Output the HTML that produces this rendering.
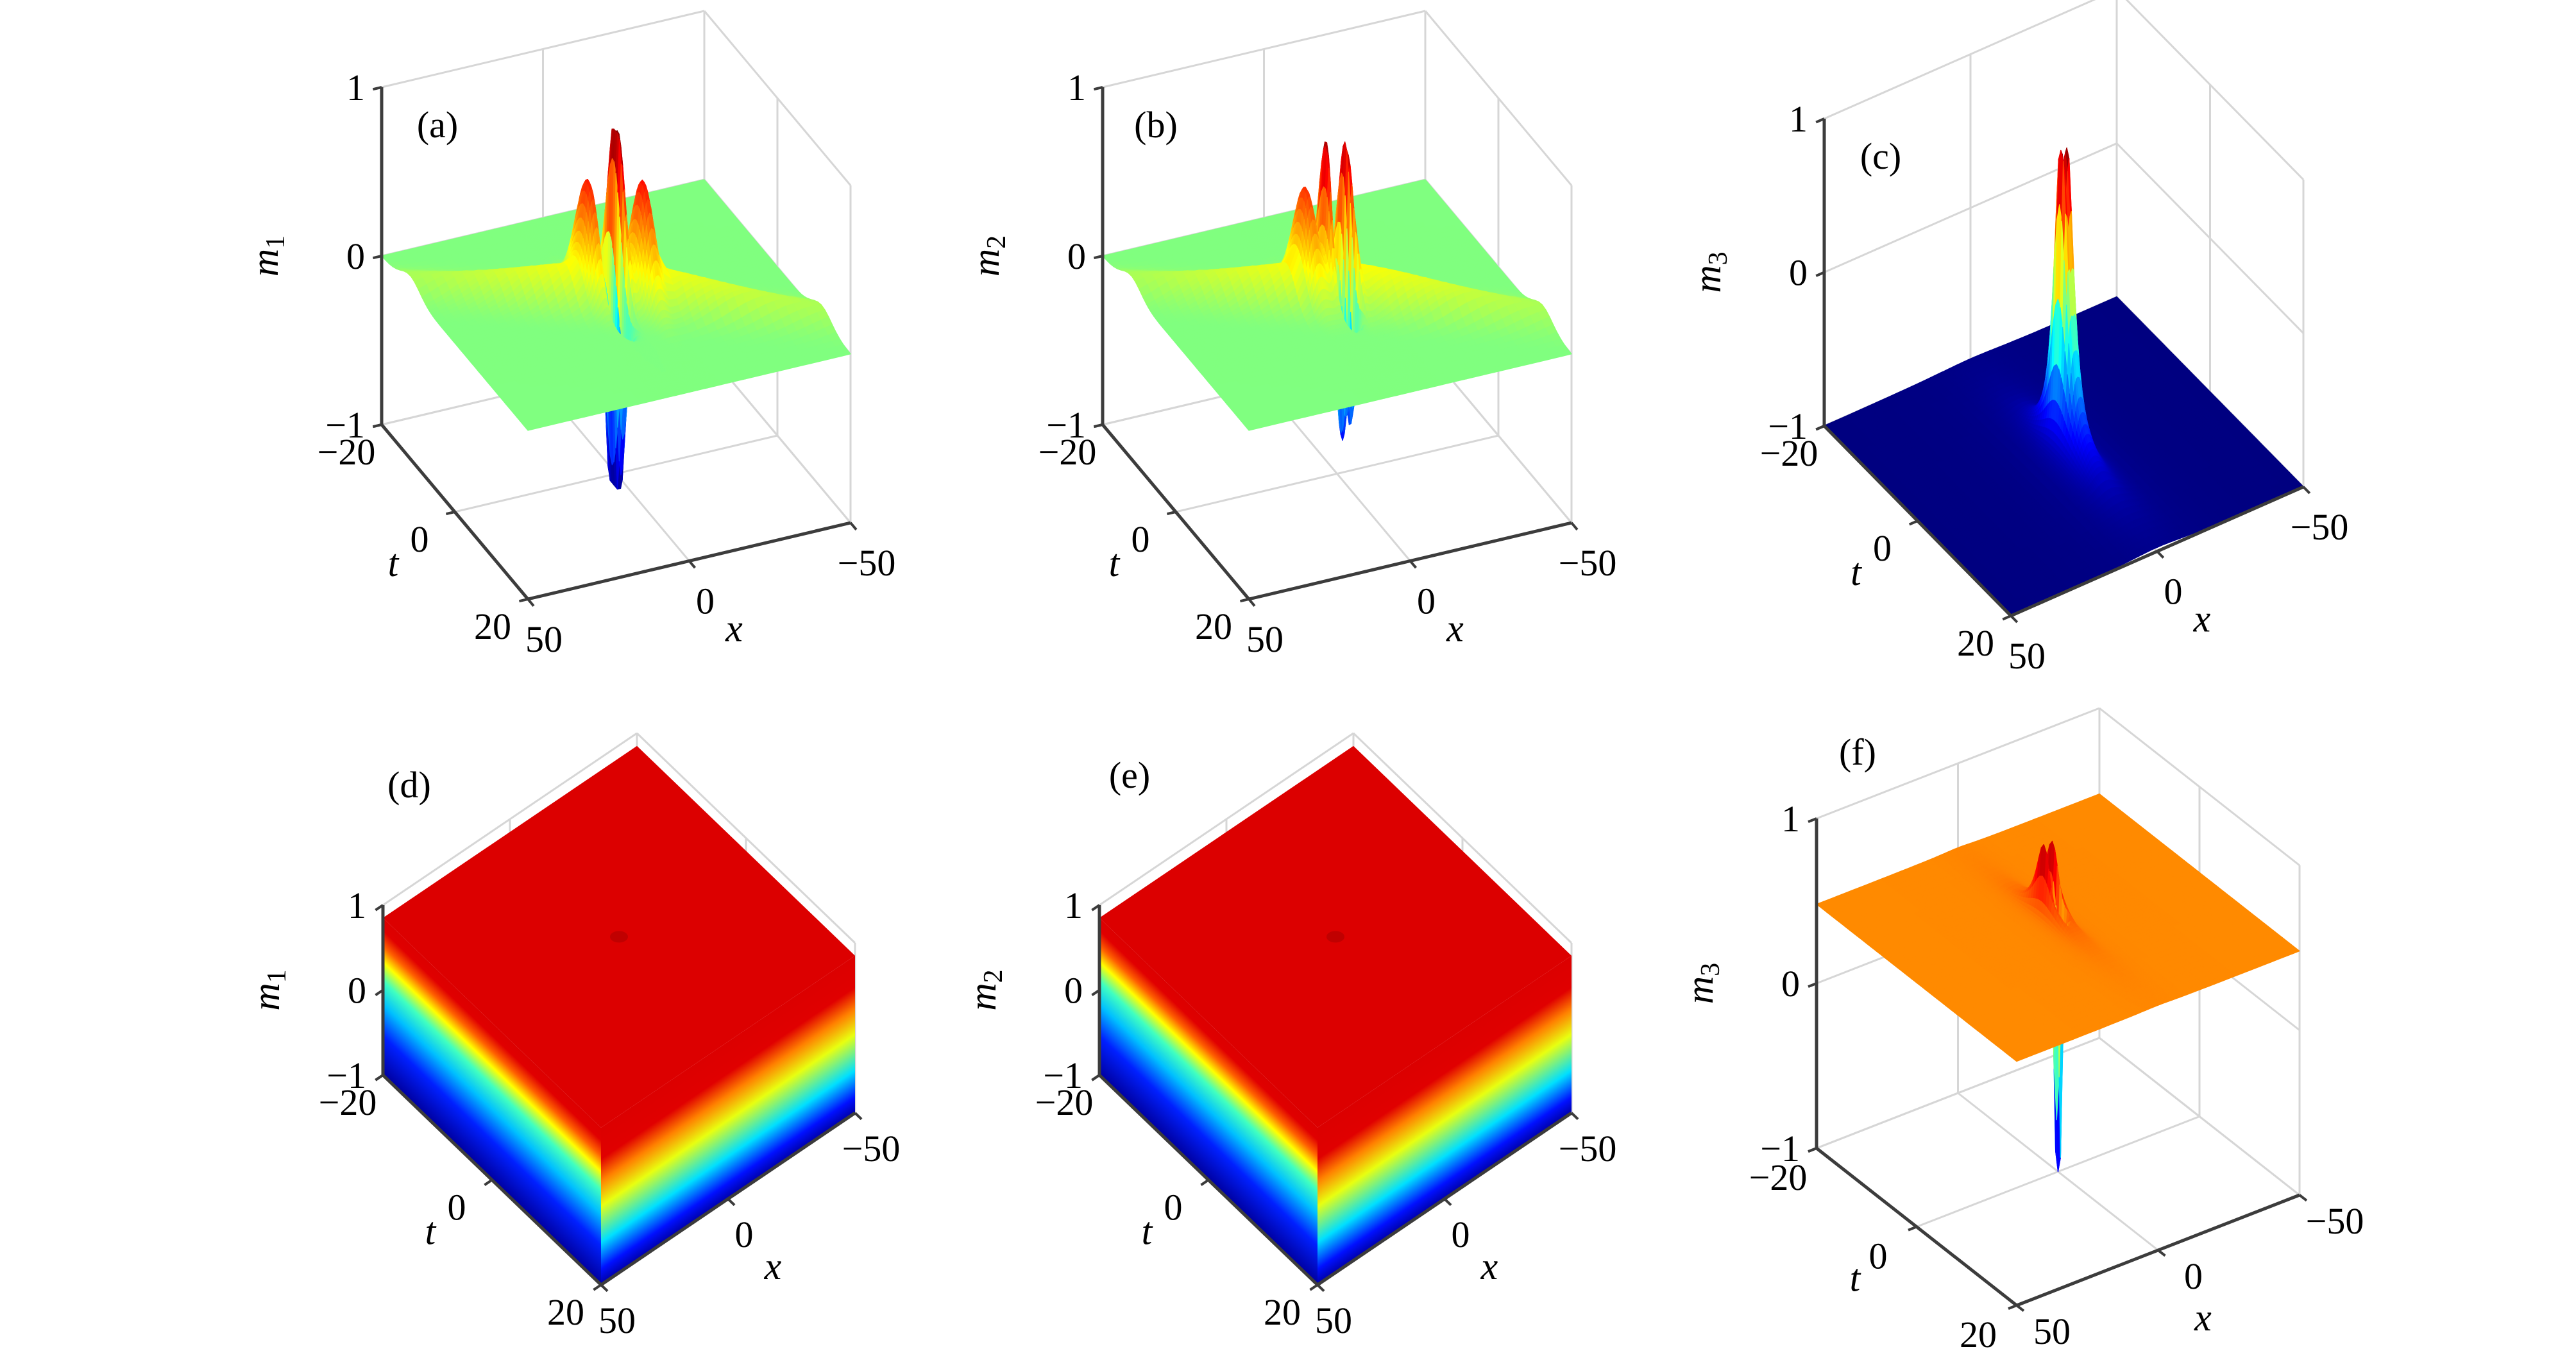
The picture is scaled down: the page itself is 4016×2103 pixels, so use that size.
<!DOCTYPE html>
<html><head><meta charset="utf-8"><title>m1 m2 m3 surfaces</title>
<style>
html,body{margin:0;padding:0;background:#fff;}
svg{display:block;}
text{font-family:"Liberation Serif","DejaVu Serif",serif;fill:#000;}
</style></head>
<body>
<svg id="fig" width="4016" height="2103" viewBox="0 0 4016 2103" xmlns="http://www.w3.org/2000/svg"></svg>
<script>
// ---- tick data ----
const zTicks = [1, 0, -1];
const zTickLabels = ['1', '0', '\u22121'];
const tTicks = [-20, 0, 20];
const tTickLabels = ['\u221220', '0', '20'];
const xTicks = [50, 0, -50];
const xTickLabels = ['50', '0', '\u221250'];

// ---- panel (a) m1 surface features ----
const aBase = 0;
const aAmp = [1.0, 0.5, 0.5, -1.3, -0.8];
const aX0 = [-1, 6, -7, 1.5, 3];
const aT0 = [-1, -3, 1, 1, 2];
const aSx = [1.2, 2.5, 2.5, 1.8, 1.4];
const aSt = [3, 4, 4, 3, 2.5];
const aKind = [0, 0, 0, 0, 0];
const aRidge = [0.25, 3.9, 14, 9];
// ---- panel (b) m2 ----
const bBase = 0;
const bAmp = [1.0, 0.85, 0.45, -1.2, -1.0];
const bX0 = [1.5, -3, 7, 0.5, -2];
const bT0 = [-1, 0, -3, 1, 2];
const bSx = [1.2, 1.2, 2.5, 1.4, 1.2];
const bSt = [3, 3, 4, 2.5, 2];
const bKind = [0, 0, 0, 0, 0];
const bRidge = [0.25, 3.9, 14, 9];
// ---- panel (c) m3 ----
const cBase = -1;
const cAmp = [1.65, 1.65, 0.25];
const cX0 = [-1, 1, 0];
const cT0 = [0, 0, 2];
const cSx = [1.5, 1.5, 4];
const cSt = [2.4, 2.4, 6];
const cKind = [2, 2, 1];
const cRidge = [0, 1, 1, 1];
// ---- panel (f) m3 ----
const fBase = 0.48;
const fAmp = [0.45, 0.45, -1.9];
const fX0 = [1.5, -1.5, 0];
const fT0 = [-2, -2, 0];
const fSx = [0.6, 0.6, 0.8];
const fSt = [1.8, 1.8, 1.0];
const fKind = [1, 1, 0];
const fRidge = [0, 1, 1, 1];
// ---- panels (d),(e): plateau level ----
const dTop = 0.85;
const eTop = 0.85;

const NS = 'http://www.w3.org/2000/svg';
const svg = document.getElementById('fig');

const panels = [
  {id:'a', m:'1', geo:{B:[595,662],T:[228,272],X:[503,-119],Z:[0,-526]}, lab:[682,196], kind:'surf', tOff:[-55,42], xOff:[25,62],
   base:aBase, amp:aAmp, x0:aX0, t0:aT0, sx:aSx, st:aSt, k:aKind, ridge:aRidge},
  {id:'b', m:'2', geo:{B:[1719,662],T:[228,272],X:[503,-119],Z:[0,-526]}, lab:[1802,196], kind:'surf', tOff:[-55,42], xOff:[25,62],
   base:bBase, amp:bAmp, x0:bX0, t0:bT0, sx:bSx, st:bSt, k:bKind, ridge:bRidge},
  {id:'c', m:'3', geo:{B:[2844,664],T:[291,296],X:[456,-201],Z:[0,-479]}, lab:[2932,245], kind:'surf', tOff:[-55,42], xOff:[25,62],
   base:cBase, amp:cAmp, x0:cX0, t0:cT0, sx:cSx, st:cSt, k:cKind, ridge:cRidge},
  {id:'d', m:'1', geo:{B:[597,1676],T:[340,327],X:[396,-268],Z:[0,-265]}, lab:[638,1225], kind:'block', top:dTop, tOff:[-55,42], xOff:[25,55]},
  {id:'e', m:'2', geo:{B:[1714,1676],T:[340,327],X:[396,-268],Z:[0,-265]}, lab:[1761,1210], kind:'block', top:eTop, tOff:[-55,42], xOff:[25,55]},
  {id:'f', m:'3', geo:{B:[2832,1790],T:[312,245],X:[441,-172],Z:[0,-514]}, lab:[2896,1174], kind:'surf', tOff:[-60,45], xOff:[55,40],
   base:fBase, amp:fAmp, x0:fX0, t0:fT0, sx:fSx, st:fSt, k:fKind, ridge:fRidge}
];

function P(g,x,t,z){
  const a=(t+20)/40, b=(50-x)/100, c=(z+1)/2;
  return [g.B[0]+a*g.T[0]+b*g.X[0]+c*g.Z[0], g.B[1]+a*g.T[1]+b*g.X[1]+c*g.Z[1]];
}
function jet(v){
  v=Math.max(0,Math.min(1,v));
  const c=f=>Math.round(255*Math.max(0,Math.min(1,1.5-Math.abs(4*v-f))));
  return 'rgb('+c(3)+','+c(2)+','+c(1)+')';
}
function el(tag, parent){
  const e=document.createElementNS(NS,tag);
  parent.appendChild(e);
  return e;
}
function line(parent,p,q,color,w,name){
  const e=el('line',parent);
  e.setAttribute('x1',p[0].toFixed(1)); e.setAttribute('y1',p[1].toFixed(1));
  e.setAttribute('x2',q[0].toFixed(1)); e.setAttribute('y2',q[1].toFixed(1));
  e.setAttribute('stroke',color); e.setAttribute('stroke-width',w);
  
  
  return e;
}
function text(parent,x,y,str,anchor,name,size,italic){
  const e=el('text',parent);
  e.setAttribute('x',x.toFixed(1)); e.setAttribute('y',y.toFixed(1));
  e.setAttribute('text-anchor',anchor);
  e.setAttribute('font-size',size||58);
  if(italic) e.setAttribute('font-style','italic');
  e.textContent=str;
  
  
  return e;
}
function poly(parent,pts,fill,name){
  const e=el('polygon',parent);
  e.setAttribute('points',pts.map(p=>p[0].toFixed(1)+','+p[1].toFixed(1)).join(' '));
  e.setAttribute('fill',fill);
  
  
  return e;
}
function zval(p,x,t){
  let z=p.base;
  for(let i=0;i<p.amp.length;i++){
    const dx=(x-p.x0[i])/p.sx[i], dt=(t-p.t0[i])/p.st[i];
    const r2=dx*dx+dt*dt;
    if(p.k[i]===0) z+=p.amp[i]*Math.exp(-r2);
    else if(p.k[i]===1) z+=p.amp[i]/(1+r2);
    else z+=p.amp[i]/((1+r2)*(1+r2));
  }
  if(p.ridge[0]){
    const u=(x+p.ridge[1]*t)/p.ridge[2];
    z+=p.ridge[0]*Math.exp(-u*u)/(1+Math.pow(t/p.ridge[3],2));
  }
  return Math.max(-1,Math.min(1,z));
}
function meshX(){
  const a=[]; for(let x=50;x>10;x-=2.5)a.push(x);
  for(let x=10;x>-10;x-=0.5)a.push(x);
  for(let x=-10;x>=-50;x-=2.5)a.push(x);
  return a;
}
function meshT(){
  const a=[]; for(let t=-20;t<-8;t+=1)a.push(t);
  for(let t=-8;t<8;t+=0.5)a.push(t);
  for(let t=8;t<=20;t+=1)a.push(t);
  return a;
}
let gid=0;
function faceGradient(defs,p0,p1,edge,stops){
  const len=Math.hypot(edge[0],edge[1]);
  let n=[-edge[1]/len, edge[0]/len];
  if(n[1]>0)n=[-n[0],-n[1]];
  const d=(p1[0]-p0[0])*n[0]+(p1[1]-p0[1])*n[1];
  const g=el('linearGradient',defs);
  const id='grad'+(gid++);
  g.setAttribute('id',id);
  g.setAttribute('gradientUnits','userSpaceOnUse');
  g.setAttribute('x1',p0[0]); g.setAttribute('y1',p0[1]);
  g.setAttribute('x2',p0[0]+n[0]*d); g.setAttribute('y2',p0[1]+n[1]*d);
  stops.forEach(s=>{const st=el('stop',g); st.setAttribute('offset',s[0]); st.setAttribute('stop-color',s[1]);});
  return 'url(#'+id+')';
}

const defs=el('defs',svg);

panels.forEach(p=>{
  const g=p.geo;
  const grp=el('g',svg);
  
  
  const GC='#d6d6d6', GW=3;
  [0,-50].forEach(x=>line(grp,P(g,x,-20,-1),P(g,x,-20,1),GC,GW,'grid-line'));
  zTicks.forEach(z=>line(grp,P(g,50,-20,z),P(g,-50,-20,z),GC,GW,'grid-line'));
  tTicks.forEach(t=>line(grp,P(g,-50,t,-1),P(g,-50,t,1),GC,GW,'grid-line'));
  zTicks.forEach(z=>line(grp,P(g,-50,-20,z),P(g,-50,20,z),GC,GW,'grid-line'));
  [0,-50].forEach(x=>line(grp,P(g,x,-20,-1),P(g,x,20,-1),GC,GW,'grid-line'));
  [-20,0].forEach(t=>line(grp,P(g,50,t,-1),P(g,-50,t,-1),GC,GW,'grid-line'));

  const sg=el('g',grp);
  
  
  if(p.kind==='surf'){
    const xs=meshX(), ts=meshT();
    const Z=[]; for(let i=0;i<xs.length;i++){Z.push([]);for(let j=0;j<ts.length;j++)Z[i].push(zval(p,xs[i],ts[j]));}
    const quads=[];
    for(let i=0;i<xs.length-1;i++)for(let j=0;j<ts.length-1;j++){
      const xc=(xs[i]+xs[i+1])/2, tc=(ts[j]+ts[j+1])/2;
      const depth=P(g,xc,tc,-1)[1];
      quads.push([depth,i,j]);
    }
    quads.sort((u,v)=>u[0]-v[0]);
    quads.forEach(q=>{
      const i=q[1],j=q[2];
      const z1=Z[i][j],z2=Z[i+1][j],z3=Z[i+1][j+1],z4=Z[i][j+1];
      const col=jet(((z1+z2+z3+z4)/4+1)/2);
      const e=poly(sg,[P(g,xs[i],ts[j],z1),P(g,xs[i+1],ts[j],z2),P(g,xs[i+1],ts[j+1],z3),P(g,xs[i],ts[j+1],z4)],col,'surface-patch');
      e.setAttribute('stroke',col); e.setAttribute('stroke-width','1.2'); e.setAttribute('stroke-linejoin','round');
    });
  } else {
    const zt=p.top;
    const rightStops=[[0,'#0000a8'],[0.1,'#0010ff'],[0.27,'#00e0ff'],[0.5,'#e8ff10'],[0.66,'#ff8000'],[0.8,'#e00000'],[1,'#dc0000']];
    const leftStops=[[0,'#0000a0'],[0.25,'#0020ff'],[0.45,'#00c0ff'],[0.6,'#40ffc0'],[0.72,'#ffff00'],[0.82,'#ff6000'],[0.92,'#e00000'],[1,'#dc0000']];
    const lf=faceGradient(defs,P(g,50,-20,-1),P(g,50,-20,zt),[g.T[0],g.T[1]],leftStops);
    poly(sg,[P(g,50,-20,-1),P(g,50,20,-1),P(g,50,20,zt),P(g,50,-20,zt)],lf,'left-face');
    const rf=faceGradient(defs,P(g,50,20,-1),P(g,50,20,zt),[g.X[0],g.X[1]],rightStops);
    poly(sg,[P(g,50,20,-1),P(g,-50,20,-1),P(g,-50,20,zt),P(g,50,20,zt)],rf,'right-face');
    poly(sg,[P(g,50,-20,zt),P(g,50,20,zt),P(g,-50,20,zt),P(g,-50,-20,zt)],'#dc0000','top-plateau');
    const c=P(g,0,0,zt);
    const dm=el('ellipse',sg);
    dm.setAttribute('cx',c[0]); dm.setAttribute('cy',c[1]); dm.setAttribute('rx',14); dm.setAttribute('ry',9); dm.setAttribute('fill','#c00000');
    
    
  }

  const AC='#3c3c3c', AW=5;
  line(grp,P(g,50,-20,-1),P(g,50,-20,1),AC,AW,'z-axis');
  line(grp,P(g,50,-20,-1),P(g,50,20,-1),AC,AW,'t-axis');
  line(grp,P(g,50,20,-1),P(g,-50,20,-1),AC,AW,'x-axis');
  const xl=Math.hypot(g.X[0],g.X[1]), tl=Math.hypot(g.T[0],g.T[1]);
  const nx=[-g.X[0]/xl*14,-g.X[1]/xl*14], nt=[g.T[0]/tl*14,g.T[1]/tl*14];
  zTicks.forEach(z=>{const a=P(g,50,-20,z);line(grp,a,[a[0]+nx[0],a[1]+nx[1]],AC,4,'z-tick');});
  tTicks.forEach(t=>{const a=P(g,50,t,-1);line(grp,a,[a[0]+nx[0],a[1]+nx[1]],AC,4,'t-tick');});
  xTicks.forEach(x=>{const a=P(g,x,20,-1);line(grp,a,[a[0]+nt[0],a[1]+nt[1]],AC,4,'x-tick');});

  zTicks.forEach((z,i)=>{const a=P(g,50,-20,z);text(grp,a[0]-26,a[1]+20,zTickLabels[i],'end','z-tick-label');});
  tTicks.forEach((t,i)=>{const a=P(g,50,t,-1);text(grp,a[0]+p.tOff[0],a[1]+p.tOff[1]+20,tTickLabels[i],'middle','t-tick-label');});
  xTicks.forEach((x,i)=>{const a=P(g,x,20,-1);text(grp,a[0]+p.xOff[0],a[1]+p.xOff[1]+20,xTickLabels[i],'middle','x-tick-label');});
  const tp=P(g,50,0,-1); text(grp,tp[0]-96,tp[1]+100,'t','middle','t-axis-title',60,true);
  const xp=P(g,0,20,-1); text(grp,xp[0]+70,xp[1]+125,'x','middle','x-axis-title',60,true);
  const zp=P(g,50,-20,0);
  const mx=g.B[0]-180, my=zp[1];
  const mt=el('text',grp);
  mt.setAttribute('x',mx); mt.setAttribute('y',my+18); mt.setAttribute('text-anchor','middle');
  mt.setAttribute('font-size',60); mt.setAttribute('transform','rotate(-90 '+mx+' '+my+')');
  
  
  const ms=el('tspan',mt); ms.setAttribute('font-style','italic'); ms.textContent='m';
  const sub=el('tspan',mt); sub.setAttribute('font-size',42); sub.setAttribute('dy',10); sub.textContent=p.m;
  text(grp,p.lab[0],p.lab[1]+18,'('+p.id+')','middle','panel-label',58);
});
</script>
</body></html>
